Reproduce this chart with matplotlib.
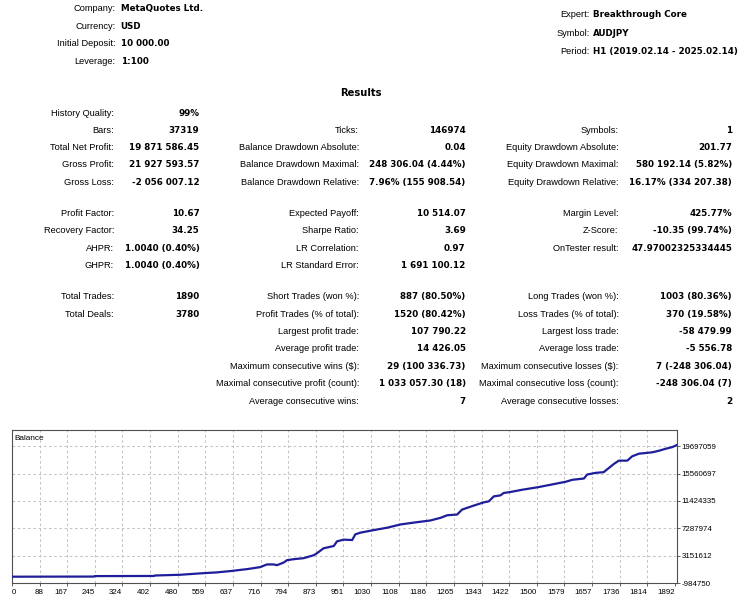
import numpy as np
import matplotlib
matplotlib.use("Agg")
import matplotlib.pyplot as plt

W, H = 746, 600

# ---------------- data ----------------
header_left_labels = ["Company:", "Currency:", "Initial Deposit:", "Leverage:"]
header_left_values = ["MetaQuotes Ltd.", "USD", "10 000.00", "1:100"]
header_right_labels = ["Expert:", "Symbol:", "Period:"]
header_right_values = ["Breakthrough Core", "AUDJPY", "H1 (2019.02.14 - 2025.02.14)"]

results_title = "Results"

col1_labels = ["History Quality:", "Bars:", "Total Net Profit:", "Gross Profit:", "Gross Loss:",
               "Profit Factor:", "Recovery Factor:", "AHPR:", "GHPR:",
               "Total Trades:", "Total Deals:", "", "", "", "", ""]
col1_values = ["99%", "37319", "19 871 586.45", "21 927 593.57", "-2 056 007.12",
               "10.67", "34.25", "1.0040 (0.40%)", "1.0040 (0.40%)",
               "1890", "3780", "", "", "", "", ""]
col2_labels = ["", "Ticks:", "Balance Drawdown Absolute:", "Balance Drawdown Maximal:", "Balance Drawdown Relative:",
               "Expected Payoff:", "Sharpe Ratio:", "LR Correlation:", "LR Standard Error:",
               "Short Trades (won %):", "Profit Trades (% of total):", "Largest profit trade:",
               "Average profit trade:", "Maximum consecutive wins ($):",
               "Maximal consecutive profit (count):", "Average consecutive wins:"]
col2_values = ["", "146974", "0.04", "248 306.04 (4.44%)", "7.96% (155 908.54)",
               "10 514.07", "3.69", "0.97", "1 691 100.12",
               "887 (80.50%)", "1520 (80.42%)", "107 790.22", "14 426.05", "29 (100 336.73)",
               "1 033 057.30 (18)", "7"]
col3_labels = ["", "Symbols:", "Equity Drawdown Absolute:", "Equity Drawdown Maximal:", "Equity Drawdown Relative:",
               "Margin Level:", "Z-Score:", "OnTester result:", "",
               "Long Trades (won %):", "Loss Trades (% of total):", "Largest loss trade:",
               "Average loss trade:", "Maximum consecutive losses ($):",
               "Maximal consecutive loss (count):", "Average consecutive losses:"]
col3_values = ["", "1", "201.77", "580 192.14 (5.82%)", "16.17% (334 207.38)",
               "425.77%", "-10.35 (99.74%)", "47.97002325334445", "",
               "1003 (80.36%)", "370 (19.58%)", "-58 479.99", "-5 556.78", "7 (-248 306.04)",
               "-248 306.04 (7)", "2"]

chart_title = "Balance"
trade_idx = [0, 234, 236, 405, 407, 479, 536, 583, 621, 669, 706, 725, 744, 754, 773, 782,
             801, 829, 858, 867, 886, 915, 924, 943, 967, 976, 990, 1028, 1066, 1104,
             1151, 1189, 1218, 1237, 1265, 1279, 1312, 1341, 1355, 1369, 1388, 1397,
             1416, 1450, 1497, 1544, 1573, 1592, 1625, 1634, 1658, 1681, 1696, 1710,
             1724, 1748, 1762, 1781, 1819, 1838, 1857, 1876, 1890]
balance = [10000, 30000, 100000, 120000, 190000, 301000, 511000, 660000, 855000, 1154000,
           1453000, 1857000, 1857000, 1752000, 2156000, 2500000, 2649000, 2799000, 3247000,
           3546000, 4294000, 4638000, 5341000, 5595000, 5535000, 6388000, 6642000, 7031000,
           7390000, 7883000, 8227000, 8481000, 8885000, 9274000, 9379000, 10126000, 10724000,
           11218000, 11368000, 12115000, 12265000, 12624000, 12773000, 13117000, 13521000,
           14014000, 14314000, 14613000, 14807000, 15405000, 15659000, 15764000, 16407000,
           17005000, 17499000, 17499000, 18157000, 18546000, 18755000, 18994000, 19293000,
           19548000, 19881586]
x_tick_labels = ["0", "88", "167", "245", "324", "402", "480", "559", "637", "716", "794",
                 "873", "951", "1030", "1108", "1186", "1265", "1343", "1422", "1500",
                 "1579", "1657", "1736", "1814", "1892"]
y_tick_values = [-984750, 3151612, 7287974, 11424335, 15560697, 19697059]
y_tick_labels = ["-984750", "3151612", "7287974", "11424335", "15560697", "19697059"]

# ---------------- figure ----------------
fig = plt.figure(figsize=(W / 100, H / 100), dpi=100)
fig.patch.set_facecolor("white")

LABEL_FONT = dict(family=["Liberation Sans", "DejaVu Sans"], size=6.7, color="#000000")
VALUE_FONT = dict(family=["DejaVu Sans"], size=6.3, weight="bold", color="#000000")


def put(x, y, s, ha, font):
    if s:
        fig.text(x / W, 1 - (y + 3.3) / H, s, ha=ha, va="baseline", **font)


# header
hl_y = [7.5, 25.3, 43.0, 60.7]
for y, lab, val in zip(hl_y, header_left_labels, header_left_values):
    put(115.7, y, lab, "right", LABEL_FONT)
    put(120.7, y, val, "left", VALUE_FONT)
hr_y = [14.0, 32.3, 50.5]
for y, lab, val in zip(hr_y, header_right_labels, header_right_values):
    put(589.7, y, lab, "right", LABEL_FONT)
    put(593.0, y, val, "left", VALUE_FONT)

put(361, 92.5, results_title, "center",
    dict(family=["DejaVu Sans"], size=7.2, weight="bold", color="#000000"))

row_y = [112.2, 129.5, 146.8, 164.1, 181.4,
         212.8, 230.0, 247.3, 264.5,
         296.0, 313.3, 330.7, 348.0, 365.5, 383.0, 400.4]
cols = [(114.0, 199.5, col1_labels, col1_values),
        (359.0, 465.7, col2_labels, col2_values),
        (618.7, 732.0, col3_labels, col3_values)]
for lx, vx, labs, vals in cols:
    for y, lab, val in zip(row_y, labs, vals):
        put(lx, y, lab, "right", LABEL_FONT)
        put(vx, y, val, "right", VALUE_FONT)

# ---------------- chart ----------------
L, R, T, B = 11.5, 677.3, 429.5, 583.3
ax = fig.add_axes([L / W, 1 - B / H, (R - L) / W, (B - T) / H])
ax.set_facecolor("white")
ax.set_xlim(0, 1890)
ax.set_ylim(-984750, 22194427)

grid_kw = dict(color="#c4c4c4", lw=0.75, dashes=(2.5, 2.5), zorder=1)
x_tick_pos = 1.1 + 78.42 * np.arange(len(x_tick_labels))
for xp in x_tick_pos[1:-1]:
    ax.axvline(xp, **grid_kw)
for yv in y_tick_values[1:]:
    ax.axhline(yv, **grid_kw)

ax.plot(trade_idx, balance, color="#1e1e9a", lw=1.6, solid_joinstyle="round", zorder=3)

tick_font = dict(family=["Liberation Sans", "DejaVu Sans"], size=5.7, color="#000000")
ax.set_xticks(x_tick_pos)
ax.set_xticklabels(x_tick_labels, **tick_font)
for i, lbl in enumerate(ax.get_xticklabels()):
    lbl.set_ha("left" if i == 0 else ("center" if i == 1 else "right"))
ax.tick_params(axis="x", length=2, width=0.7, color="#606060", pad=2)

ax.yaxis.tick_right()
ax.set_yticks(y_tick_values)
ax.set_yticklabels(y_tick_labels, **tick_font)
ax.tick_params(axis="y", length=2.2, width=0.7, color="#606060", pad=1)

for s in ax.spines.values():
    s.set_color("#505050")
    s.set_linewidth(0.8)

ax.text(3.0 / (R - L), 1 - 8.5 / (B - T), chart_title, transform=ax.transAxes,
        ha="left", va="center", **dict(tick_font, size=5.9))

fig.savefig("out.png", dpi=100, facecolor="white")
